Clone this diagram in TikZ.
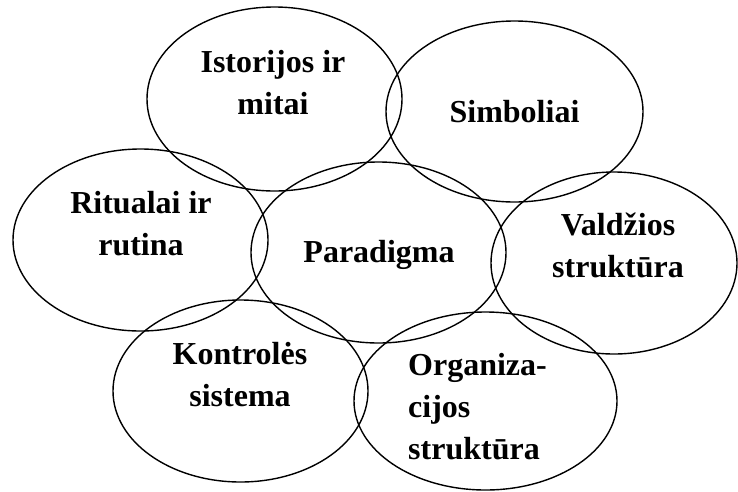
\documentclass[tikz,border=0pt]{standalone}
\usepackage{fontspec}
\setmainfont{Liberation Serif}
\usetikzlibrary{shapes.geometric}
\tikzset{
  ell/.style={draw=black, line width=1.4pt, ellipse, inner sep=0pt},
  lbl/.style={inner sep=0pt, font=\fontsize{32}{42}\selectfont\bfseries}
}
\begin{document}
\begin{tikzpicture}[x=1pt,y=-1pt]
\useasboundingbox (0,0) rectangle (738,491);
% ellipses
\node[ell, minimum width=255pt, minimum height=184pt] (e1) at (274.5,99) {};
\node[ell, minimum width=257pt, minimum height=181pt] (e2) at (514.5,111.5) {};
\node[ell, minimum width=255pt, minimum height=182pt] (e3) at (140.5,240) {};
\node[ell, minimum width=255pt, minimum height=181pt] (e4) at (378.5,252.5) {};
\node[ell, minimum width=246pt, minimum height=182pt] (e5) at (614,263) {};
\node[ell, minimum width=255pt, minimum height=182pt] (e6) at (240.5,391) {};
\node[ell, minimum width=263pt, minimum height=178pt] (e7) at (485.5,401) {};
% labels
\node[lbl, anchor=base] (t1) at (273,72) {\begin{tabular}[t]{@{}c@{}}Istorijos ir\\mitai\end{tabular}};
\node[lbl, anchor=base] (t2) at (514.5,122) {Simboliai};
\node[lbl, anchor=base] (t3) at (141,213) {\begin{tabular}[t]{@{}c@{}}Ritualai ir\\rutina\end{tabular}};
\node[lbl, anchor=base] (t4) at (379,262) {Paradigma};
\node[lbl, anchor=base] (t5) at (618,235) {\begin{tabular}[t]{@{}c@{}}Valdžios\\struktūra\end{tabular}};
\node[lbl, anchor=base] (t6) at (240,364) {\begin{tabular}[t]{@{}c@{}}Kontrolės\\sistema\end{tabular}};
\node[lbl, anchor=base west] (t7) at (408,375) {\begin{tabular}[t]{@{}l@{}}Organiza-\\cijos\\struktūra\end{tabular}};
\end{tikzpicture}
\end{document}
